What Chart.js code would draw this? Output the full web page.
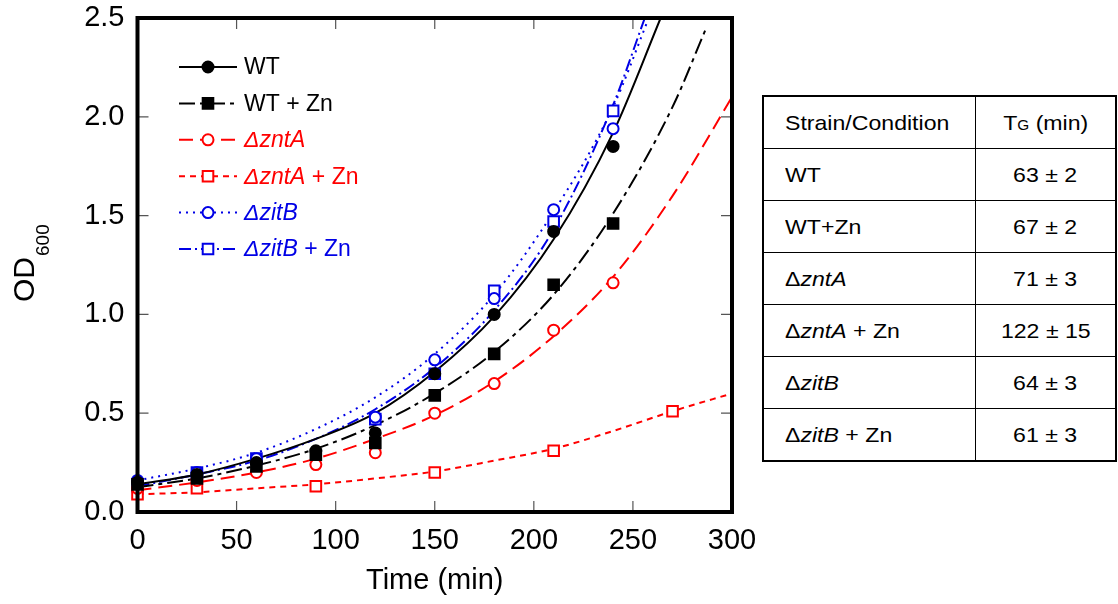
<!DOCTYPE html>
<html>
<head>
<meta charset="utf-8">
<script src="https://cdn.jsdelivr.net/npm/chart.js@4"></script>
<style>
body{margin:0;background:#fff;width:1118px;height:604px;overflow:hidden;position:relative;font-family:"Liberation Sans",Arial,sans-serif}
#growth{position:absolute;left:0;top:0}
table{position:absolute;left:762px;top:95px;width:355px;height:366px;border-collapse:collapse;border:2px solid #000}
td{border:1.5px solid #000;font-size:21px;color:#000;height:51px;padding:0}
td.name{padding-left:21px;width:190px}
td.tg{text-align:center}
.s{display:inline-block;transform:scaleX(1.1);transform-origin:left center;white-space:nowrap}
td.tg .s{transform-origin:center}
.sub{font-size:14px}
</style>
</head>
<body>
<canvas id="growth" width="760" height="604"></canvas>
<table id="tgTable"></table>
<script>

// measured points (time in min, OD600)
const tAll = [0,30,60,90,120,150,180,210,240]
const wtOD = [0.15,0.19,0.25,0.31,0.40,0.70,1.00,1.42,1.85]
const wtZnOD = [0.14,0.17,0.23,0.29,0.35,0.59,0.80,1.15,1.46]
const zntOD = [0.12,0.16,0.20,0.24,0.30,0.50,0.65,0.92,1.16]
const tZntZn = [0,30,90,150,210,270]
const zntZnOD = [0.09,0.12,0.13,0.20,0.31,0.51]
const tZit = [0,30,60,120,150,180,210,240]
const zitOD = [0.16,0.20,0.27,0.48,0.77,1.08,1.53,1.94]
const zitZnOD = [0.13,0.20,0.27,0.47,0.70,1.12,1.47,2.03]

// fitted curves
const wtFitT = [0,30,60,90,120,150,180,210,240,264]
const wtFit = [0.14,0.19,0.27,0.37,0.50,0.71,0.99,1.38,1.92,2.5]
const wtZnFitT = [0,30,60,90,120,150,180,210,240,270,287]
const wtZnFit = [0.125,0.17,0.235,0.32,0.44,0.60,0.81,1.10,1.51,2.05,2.45]
const zntFitT = [0,30,60,90,120,150,180,210,240,270,300]
const zntFit = [0.11,0.15,0.20,0.27,0.37,0.49,0.66,0.89,1.19,1.60,2.10]
const zntZnFitT = [0,30,60,90,120,150,180,210,240,270,300]
const zntZnFit = [0.09,0.10,0.12,0.14,0.17,0.205,0.26,0.32,0.41,0.51,0.60]
const zitFitT = [0,30,60,90,120,150,180,210,240,258]
const zitFit = [0.16,0.22,0.30,0.42,0.58,0.80,1.10,1.52,2.05,2.5]
const zitZnFitT = [0,30,60,90,120,150,180,210,240,256]
const zitZnFit = [0.13,0.19,0.26,0.37,0.52,0.73,1.02,1.43,2.06,2.5]

const xTicks = [0,50,100,150,200,250,300]
const yTicks = [0,0.5,1.0,1.5,2.0,2.5]

const legendParts = [
  [["WT",false]],
  [["WT + Zn",false]],
  [["\u0394zntA",true]],
  [["\u0394zntA",true],[" + Zn",false]],
  [["\u0394zitB",true]],
  [["\u0394zitB",true],[" + Zn",false]]
]

const tableNames = ["WT","WT+Zn","\u0394<i>zntA</i>","\u0394<i>zntA</i> + Zn","\u0394<i>zitB</i>","\u0394<i>zitB</i> + Zn"]
const tgMean = [63,67,71,122,64,61]
const tgErr = [2,2,3,15,3,3]

const RED = "#ff0000"
const BLUE = "#0000e6"

const styles = [
  {color:"#000", dash:[], shape:"circle", filled:true},
  {color:"#000", dash:[16,5,4,5], shape:"rect", filled:true},
  {color:RED, dash:[14,7], shape:"circle", filled:false},
  {color:RED, dash:[6,5], shape:"rect", filled:false},
  {color:BLUE, dash:[2,5], shape:"circle", filled:false},
  {color:BLUE, dash:[12,4,2,4], shape:"rect", filled:false}
]

const pointSets = [[tAll,wtOD],[tAll,wtZnOD],[tAll,zntOD],[tZntZn,zntZnOD],[tZit,zitOD],[tZit,zitZnOD]]
const fitSets = [[wtFitT,wtFit],[wtZnFitT,wtZnFit],[zntFitT,zntFit],[zntZnFitT,zntZnFit],[zitFitT,zitFit],[zitZnFitT,zitZnFit]]

function pts(xs,ys){
return xs.map((x,i)=>({x:x,y:ys[i]}))
}

const datasets = []

fitSets.forEach((f,i)=>{
const s = styles[i]
datasets.push({
data:pts(f[0],f[1]),
borderColor:s.color,
borderWidth:2,
borderDash:s.dash,
pointRadius:0,
showLine:true,
cubicInterpolationMode:"monotone",
fill:false,
order:2
})
})

pointSets.forEach((p,i)=>{
const s = styles[i]
datasets.push({
data:pts(p[0],p[1]),
showLine:false,
pointStyle:s.shape,
pointRadius:s.shape=="rect" ? 7.5 : 5.5,
pointBorderWidth:2,
pointBorderColor:s.color,
pointBackgroundColor:s.filled ? s.color : "#fff",
clip:12,
order:1
})
})

function drawMarker(ctx,s,x,y){
ctx.setLineDash([])
ctx.lineWidth = 2
ctx.strokeStyle = s.color
ctx.fillStyle = s.filled ? s.color : "#fff"
ctx.beginPath()
if(s.shape=="circle"){
ctx.arc(x,y,5.5,0,Math.PI*2)
}else{
ctx.rect(x-5.3,y-5.3,10.6,10.6)
}
ctx.fill()
ctx.stroke()
}

const framePlugin = {
id:"frame",
afterDraw(chart){
const ctx = chart.ctx
const a = chart.chartArea
const xs = chart.scales.x
const ys = chart.scales.y
ctx.save()
ctx.strokeStyle = "#555"
ctx.lineWidth = 1.2
ctx.beginPath()
xTicks.slice(1,-1).forEach(v=>{
const px = xs.getPixelForValue(v)
ctx.moveTo(px,a.bottom); ctx.lineTo(px,a.bottom-11)
ctx.moveTo(px,a.top); ctx.lineTo(px,a.top+11)
})
yTicks.slice(1,-1).forEach(v=>{
const py = ys.getPixelForValue(v)
ctx.moveTo(a.left,py); ctx.lineTo(a.left+11,py)
ctx.moveTo(a.right,py); ctx.lineTo(a.right-11,py)
})
ctx.stroke()
ctx.strokeStyle = "#000"
ctx.lineWidth = 4
ctx.strokeRect(a.left,a.top,a.right-a.left,a.bottom-a.top)

// y title with subscript
ctx.fillStyle = "#000"
ctx.translate(34,302)
ctx.rotate(-Math.PI/2)
ctx.font = "30px 'Liberation Sans', Arial"
ctx.textBaseline = "alphabetic"
ctx.fillText("OD",0,0)
const w = ctx.measureText("OD").width
ctx.font = "19px 'Liberation Sans', Arial"
ctx.fillText("600",w+1,15)
ctx.restore()

// legend
ctx.save()
legendParts.forEach((parts,i)=>{
const s = styles[i]
const y = 67 + i*36.4
ctx.strokeStyle = s.color
ctx.lineWidth = 2
ctx.setLineDash(s.dash)
ctx.beginPath()
ctx.moveTo(179,y); ctx.lineTo(237,y)
ctx.stroke()
drawMarker(ctx,s,208,y)
let x = 244
ctx.textBaseline = "middle"
ctx.fillStyle = s.color
parts.forEach(pp=>{
ctx.font = (pp[1] ? "italic " : "") + "23px 'Liberation Sans', Arial"
ctx.fillText(pp[0],x,y+1)
x += ctx.measureText(pp[0]).width
})
})
ctx.restore()
}
}

const tickFont = {family:"'Liberation Sans', Arial", size:29}

new Chart(document.getElementById("growth"),{
type:"scatter",
data:{datasets:datasets},
options:{
responsive:false,
animation:false,
devicePixelRatio:1,
layout:{padding:{left:0,top:18,right:28,bottom:0}},
plugins:{legend:{display:false},tooltip:{enabled:false}},
scales:{
x:{
type:"linear",min:0,max:300,
afterBuildTicks(axis){axis.ticks = xTicks.map(v=>({value:v}))},
afterFit(axis){
axis.height = 92
axis.paddingLeft = 0
axis.paddingRight = 0
},
grid:{display:false,drawTicks:false},
border:{display:false},
ticks:{color:"#000",font:tickFont,padding:12,maxRotation:0},
title:{display:true,text:"Time (min)",color:"#000",font:tickFont,padding:{top:0,bottom:6}}
},
y:{
type:"linear",min:0,max:2.5,
afterBuildTicks(axis){axis.ticks = yTicks.map(v=>({value:v}))},
afterFit(axis){
axis.width = 137.5
axis.paddingTop = 0
axis.paddingBottom = 0
},
grid:{display:false,drawTicks:false},
border:{display:false},
ticks:{color:"#000",font:tickFont,padding:13,callback:v=>v.toFixed(1)}
}
}
},
plugins:[framePlugin]
})

let html = "<tr><td class='name'><span class='s'>Strain/Condition</span></td><td class='tg'><span class='s'>T<span class='sub'>G</span> (min)</span></td></tr>"
tableNames.forEach((n,i)=>{
html += "<tr><td class='name'><span class='s'>" + n + "</span></td><td class='tg'><span class='s'>" + tgMean[i] + " \u00b1 " + tgErr[i] + "</span></td></tr>"
})
document.getElementById("tgTable").innerHTML = html

</script>
</body>
</html>
